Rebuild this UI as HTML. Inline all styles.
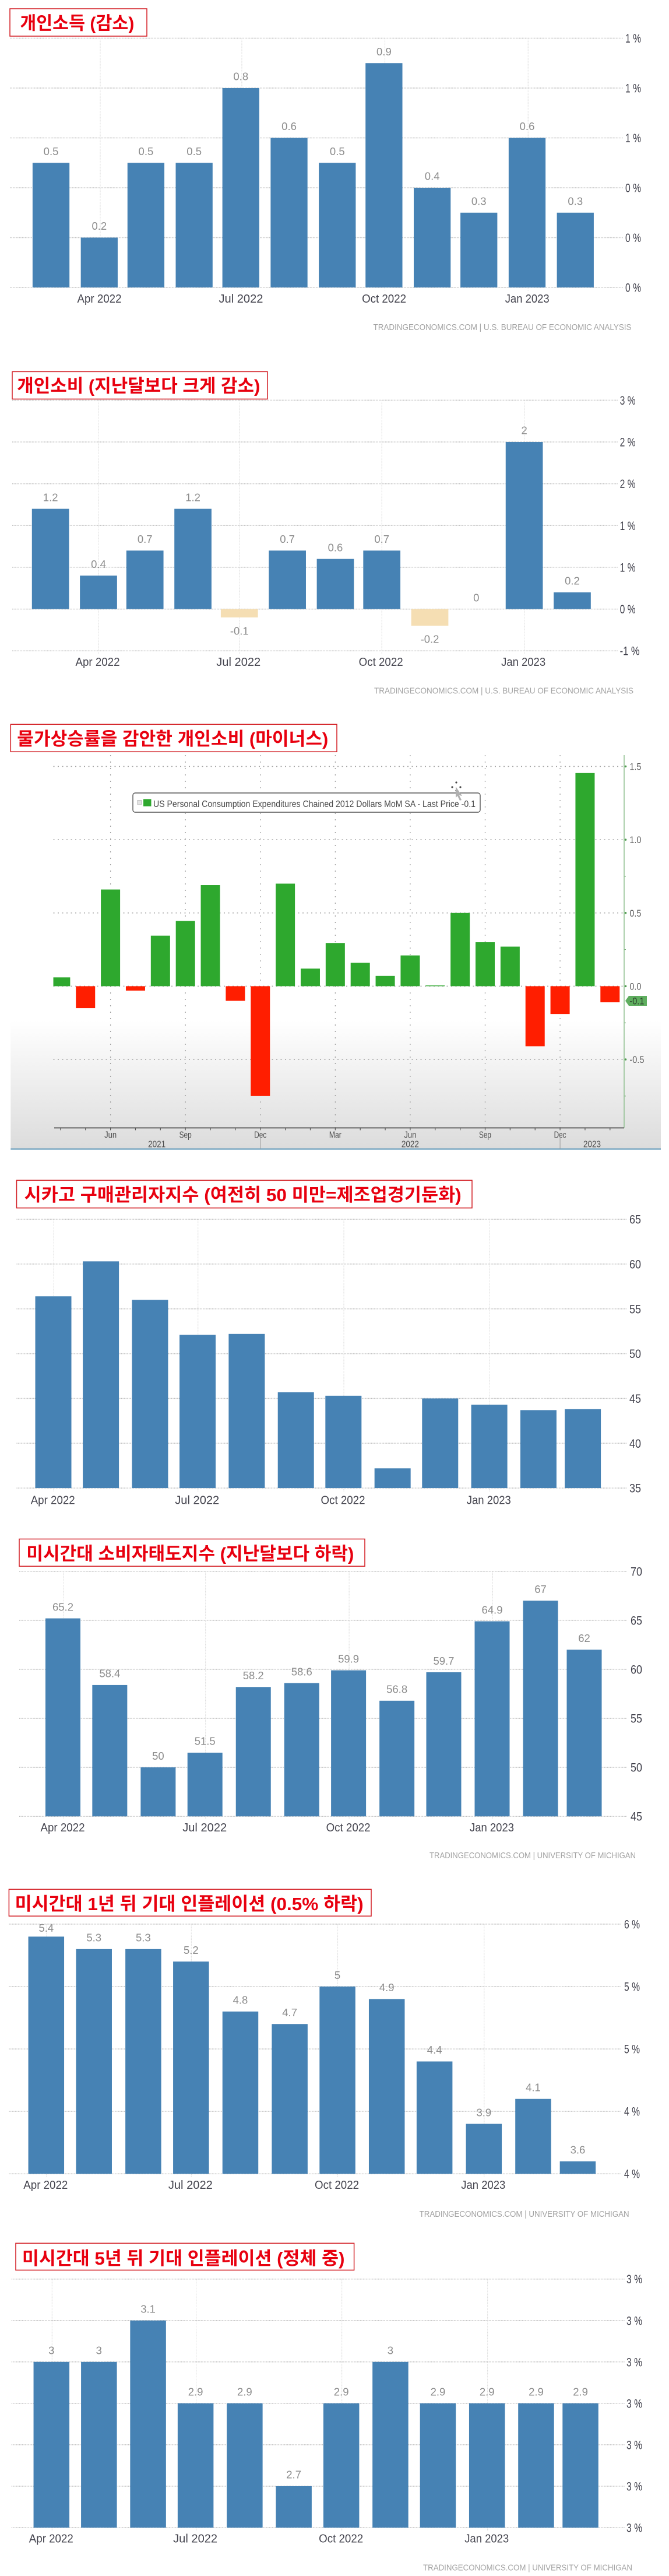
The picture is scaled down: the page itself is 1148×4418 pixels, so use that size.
<!DOCTYPE html>
<html lang="ko">
<head>
<meta charset="utf-8">
<title>US economic indicator charts</title>
<style>
html,body{margin:0;padding:0;background:#fff;}
svg{display:block;}
text{font-family:"Liberation Sans","Noto Sans CJK KR",sans-serif;}
.title-text{font-family:"Liberation Sans","Noto Sans CJK KR",sans-serif;font-weight:700;font-size:31px;fill:#e8000f;}
.title-box{fill:#fff;stroke:#d21c22;stroke-width:1.5;}
</style>
</head>
<body>
<svg id="page" xmlns="http://www.w3.org/2000/svg" width="1148" height="4418" viewBox="0 0 1148 4418">
  <defs>
    <linearGradient id="bbg-fade" x1="0" y1="0" x2="0" y2="1">
      <stop offset="0" stop-color="#ffffff"/>
      <stop offset="1" stop-color="#dcdcdc"/>
    </linearGradient>
  </defs>
  <rect x="0" y="0" width="1148" height="4418" fill="#ffffff"/>

  <g id="chart-income"></g>
  <g id="chart-spending"></g>
  <rect x="18.3" y="1750" width="1115.7" height="220" fill="url(#bbg-fade)"/>
  <rect x="18.3" y="1969.5" width="1115.7" height="2.2" fill="#6d9fbd"/>
  <g id="chart-real"></g>
  <g id="chart-pmi"></g>
  <g id="chart-sentiment"></g>
  <g id="chart-infl1"></g>
  <g id="chart-infl5"></g>

  <g>
    <rect x="228" y="1360" width="596" height="33" rx="4" fill="#ffffff" stroke="#555555" stroke-width="1.4"/>
    <rect x="236" y="1372.5" width="6.5" height="7.5" fill="#e4e4e4" stroke="#aaaaaa" stroke-width="0.8"/>
    <rect x="246" y="1370.5" width="13.5" height="12.5" fill="#2ea82e"/>
    <text x="263" y="1384" font-size="15.5" fill="#4a4a4a" textLength="553" lengthAdjust="spacingAndGlyphs">US Personal Consumption Expenditures Chained 2012 Dollars MoM SA - Last Price -0.1</text>
  </g>
  <g fill="#444444">
    <circle cx="783" cy="1342" r="1.6"/><circle cx="783" cy="1356" r="1.6"/><circle cx="776" cy="1350" r="1.6"/><circle cx="790" cy="1350" r="1.6"/>
    <polygon points="782,1349 793,1365 788,1364 792,1372 789,1373 785,1365 782,1368" fill="#b0b0b0"/>
  </g>

  <g>
    <rect class="title-box" x="17" y="15" width="235" height="47"/>
    <text class="title-text" x="34.4" y="50.5" textLength="196" lengthAdjust="spacingAndGlyphs">개인소득 (감소)</text>
  </g>
  <g>
    <rect class="title-box" x="21" y="637.4" width="438" height="47"/>
    <text class="title-text" x="29.3" y="672.5" textLength="417" lengthAdjust="spacingAndGlyphs">개인소비 (지난달보다 크게 감소)</text>
  </g>
  <g>
    <rect class="title-box" x="18.3" y="1242.3" width="559.7" height="47"/>
    <text class="title-text" x="29.3" y="1278" textLength="534" lengthAdjust="spacingAndGlyphs">물가상승률을 감안한 개인소비 (마이너스)</text>
  </g>
  <g>
    <rect class="title-box" x="28.5" y="2024.3" width="781.5" height="47.4"/>
    <text class="title-text" x="41.7" y="2060" textLength="750" lengthAdjust="spacingAndGlyphs">시카고 구매관리자지수 (여전히 50 미만=제조업경기둔화)</text>
  </g>
  <g>
    <rect class="title-box" x="33" y="2639.5" width="593" height="46.7"/>
    <text class="title-text" x="45.4" y="2675.5" textLength="562" lengthAdjust="spacingAndGlyphs">미시간대 소비자태도지수 (지난달보다 하락)</text>
  </g>
  <g>
    <rect class="title-box" x="15.4" y="3240.3" width="621.6" height="45.9"/>
    <text class="title-text" x="25.6" y="3276.2" textLength="598" lengthAdjust="spacingAndGlyphs">미시간대 1년 뒤 기대 인플레이션 (0.5% 하락)</text>
  </g>
  <g>
    <rect class="title-box" x="27" y="3847.3" width="580.6" height="46.1"/>
    <text class="title-text" x="38" y="3883.9" textLength="553.5" lengthAdjust="spacingAndGlyphs">미시간대 5년 뒤 기대 인플레이션 (정체 중)</text>
  </g>
</svg>

<script>
// ---------- shared categories ----------
const marchToFebDates = ['2022-03-01','2022-04-01','2022-05-01','2022-06-01','2022-07-01','2022-08-01','2022-09-01','2022-10-01','2022-11-01','2022-12-01','2023-01-01','2023-02-01'];
const aprilToMarchDates = ['2022-04-01','2022-05-01','2022-06-01','2022-07-01','2022-08-01','2022-09-01','2022-10-01','2022-11-01','2022-12-01','2023-01-01','2023-02-01','2023-03-01'];
const xTickDates = ['2022-04-01','2022-07-01','2022-10-01','2023-01-01'];
const xTickLabels = ['Apr 2022','Jul 2022','Oct 2022','Jan 2023'];

// ---------- personal income ----------
const incomeValues = [0.5,0.2,0.5,0.5,0.8,0.6,0.5,0.9,0.4,0.3,0.6,0.3];
const incomeTicks = [0,0.2,0.4,0.6,0.8,1];
const incomeTickLabels = ['0 %','0 %','0 %','1 %','1 %','1 %'];
const incomeSource = 'TRADINGECONOMICS.COM | U.S. BUREAU OF ECONOMIC ANALYSIS';

// ---------- personal spending ----------
const spendingValues = [1.2,0.4,0.7,1.2,-0.1,0.7,0.6,0.7,-0.2,0,2,0.2];
const spendingTicks = [-0.5,0,0.5,1,1.5,2,2.5];
const spendingTickLabels = ['-1 %','0 %','1 %','1 %','2 %','2 %','3 %'];
const spendingSource = 'TRADINGECONOMICS.COM | U.S. BUREAU OF ECONOMIC ANALYSIS';

// ---------- real spending (Bloomberg style) ----------
const realMonths = ['Apr 21','May 21','Jun 21','Jul 21','Aug 21','Sep 21','Oct 21','Nov 21','Dec 21','Jan 22','Feb 22','Mar 22','Apr 22','May 22','Jun 22','Jul 22','Aug 22','Sep 22','Oct 22','Nov 22','Dec 22','Jan 23','Feb 23'];
const realValues = [0.06,-0.15,0.66,-0.03,0.345,0.445,0.69,-0.10,-0.75,0.70,0.12,0.295,0.16,0.07,0.21,0.005,0.50,0.30,0.27,-0.41,-0.19,1.455,-0.11];
const realTicks = [-0.5,0,0.5,1,1.5];
const realTickLabels = ['-0.5','0.0','0.5','1.0','1.5'];
const realMinorTicks = [-0.75,-0.25,0.25,0.75];
const realAxisMonths = ['Jun 21','Sep 21','Dec 21','Mar 22','Jun 22','Sep 22','Dec 22'];
const realAxisMonthLabels = ['Jun','Sep','Dec','Mar','Jun','Sep','Dec'];
const realYearBreaks = ['Dec 21','Dec 22'];
const realYearLabels = ['2021','2022','2023'];
const realLastValue = -0.1;

// ---------- Chicago PMI ----------
const pmiValues = [56.4,60.3,56,52.1,52.2,45.7,45.3,37.2,45,44.3,43.7,43.8];
const pmiTicks = [35,40,45,50,55,60,65];
const pmiTickLabels = ['35','40','45','50','55','60','65'];

// ---------- Michigan sentiment ----------
const sentimentValues = [65.2,58.4,50,51.5,58.2,58.6,59.9,56.8,59.7,64.9,67,62];
const sentimentTicks = [45,50,55,60,65,70];
const sentimentTickLabels = ['45','50','55','60','65','70'];
const sentimentSource = 'TRADINGECONOMICS.COM | UNIVERSITY OF MICHIGAN';

// ---------- 1y inflation expectations ----------
const oneYearValues = [5.4,5.3,5.3,5.2,4.8,4.7,5,4.9,4.4,3.9,4.1,3.6];
const oneYearTicks = [3.5,4,4.5,5,5.5];
const oneYearTickLabels = ['4 %','4 %','5 %','5 %','6 %'];
const oneYearSource = 'TRADINGECONOMICS.COM | UNIVERSITY OF MICHIGAN';

// ---------- 5y inflation expectations ----------
const fiveYearValues = [3,3,3.1,2.9,2.9,2.7,2.9,3,2.9,2.9,2.9,2.9];
const fiveYearTicks = [2.6,2.7,2.8,2.9,3,3.1,3.2];
const fiveYearTickLabels = ['3 %','3 %','3 %','3 %','3 %','3 %','3 %'];
const fiveYearSource = 'TRADINGECONOMICS.COM | UNIVERSITY OF MICHIGAN';

// ---------- layouts (pixels, kept apart from data) ----------
const incomeLayout = {left:17,right:1070,top:65.5,bottom:493,xStart:172,xEnd:906.2,barW:63.3,shift:-1.7,xLabelY:512,yLabelX:1073,srcX:640.5,srcW:443,srcY:560.7};
const spendingLayout = {left:21,right:1061,top:686.4,bottom:1116.2,xStart:169,xEnd:899.6,barW:63.7,shift:0,xLabelY:1134.8,yLabelX:1063.6,srcX:642,srcW:445,srcY:1184.2};
const pmiLayout = {left:28.5,right:1076,top:2091.1,bottom:2552.1,xStart:92.2,xEnd:840.3,barW:62,shift:-0.7,xLabelY:2572.3,yLabelX:1080};
const sentimentLayout = {left:33,right:1076,top:2694.9,bottom:3115.2,xStart:109,xEnd:845.5,barW:60,shift:-1,xLabelY:3133.8,yLabelX:1082,srcX:737,srcW:354,srcY:3181.6};
const oneYearLayout = {left:15.4,right:1065,top:3300,bottom:3728.2,xStart:79.8,xEnd:830.8,barW:61.5,shift:-0.5,xLabelY:3747.2,yLabelX:1071,srcX:719.6,srcW:360,srcY:3796.3};
const fiveYearLayout = {left:19.8,right:1072,top:3908.7,bottom:4335,xStart:89.3,xEnd:836.7,barW:61.5,shift:-1,xLabelY:4353.6,yLabelX:1075,srcX:726,srcW:359,srcY:4402.8};
const realLayout = {left:91.5,right:1071,top:1295,yHigh:1314.5,yLow:1817,axisY:1934.4,xRef:189.6,xStep:42.86,barW:33,monthY:1945.6,yearY:1961.6};

const SVG_NS = 'http://www.w3.org/2000/svg';
function make(tag, parent) {
  const el = document.createElementNS(SVG_NS, tag);
  parent.appendChild(el);
  return el;
}
function setAll(el, props) {
  Object.keys(props).forEach(function (k) { el.setAttribute(k, props[k]); });
}
function dayNumber(iso) {
  return Date.parse(iso + 'T00:00:00Z') / 86400000;
}

function drawTradingChart(rootId, layout, dates, values, ticks, tickLabels, sourceText, showValues) {
  const root = document.getElementById(rootId);
  const domainMin = ticks[0];
  const domainMax = ticks[ticks.length - 1];
  const yScale = function (v) {
    return layout.bottom - (v - domainMin) * (layout.bottom - layout.top) / (domainMax - domainMin);
  };
  const d0 = dayNumber(xTickDates[0]);
  const d1 = dayNumber(xTickDates[xTickDates.length - 1]);
  const xScale = function (iso) {
    return layout.xStart + (dayNumber(iso) - d0) * (layout.xEnd - layout.xStart) / (d1 - d0);
  };

  ticks.forEach(function (t, i) {
    const line = make('line', root);
    
    
    setAll(line, {x1: layout.left, x2: layout.right, y1: yScale(t), y2: yScale(t), stroke: '#bdbdbd', 'stroke-width': 1.5, 'stroke-dasharray': '1.3 1.3'});
    const label = make('text', root);
    
    
    setAll(label, {x: layout.yLabelX, y: yScale(t) + 7.5, 'font-size': 21, fill: '#3f3f4a', textLength: 7 * tickLabels[i].length + 6, lengthAdjust: 'spacingAndGlyphs'});
    label.textContent = tickLabels[i];
  });

  xTickDates.forEach(function (d, i) {
    const x = xScale(d);
    const line = make('line', root);
    
    
    setAll(line, {x1: x, x2: x, y1: layout.top, y2: layout.bottom + 6, stroke: '#d4d4d4', 'stroke-width': 1, 'stroke-dasharray': '1.3 1.3'});
    const label = make('text', root);
    
    
    setAll(label, {x: x - 1.5, y: layout.xLabelY + 7, 'font-size': 20, fill: '#45454f', 'text-anchor': 'middle', textLength: 6 * xTickLabels[i].length + 28, lengthAdjust: 'spacingAndGlyphs'});
    label.textContent = xTickLabels[i];
  });

  const zeroY = yScale(Math.max(domainMin, 0));
  values.forEach(function (v, i) {
    const cx = xScale(dates[i]) + layout.shift;
    const y = yScale(v);
    const bar = make('rect', root);
    
    
    setAll(bar, {x: cx - layout.barW / 2, y: Math.min(y, zeroY), width: layout.barW, height: Math.abs(zeroY - y), fill: v < 0 ? '#f5deb3' : '#4682b4'});
    if (showValues) {
      const labelCenter = v < 0 ? y + 23 : Math.max(y - 19.8, layout.top + 6.7);
      const label = make('text', root);
      
      
      setAll(label, {x: cx, y: labelCenter + 6.5, 'font-size': 18.5, fill: '#8c8c8c', 'text-anchor': 'middle'});
      label.textContent = String(v);
    }
  });

  if (sourceText) {
    const src = make('text', root);
    
    
    setAll(src, {x: layout.srcX, y: layout.srcY + 5.5, 'font-size': 15, fill: '#a2a2a2', textLength: layout.srcW, lengthAdjust: 'spacingAndGlyphs'});
    src.textContent = sourceText;
  }
}

function drawRealChart() {
  const root = document.getElementById('chart-real');
  const L = realLayout;
  const yScale = function (v) {
    return L.yLow + (v - realTicks[0]) * (L.yHigh - L.yLow) / (realTicks[realTicks.length - 1] - realTicks[0]);
  };
  const xScale = function (month) {
    return L.xRef + (realMonths.indexOf(month) - realMonths.indexOf(realAxisMonths[0])) * L.xStep;
  };

  realAxisMonths.forEach(function (m, i) {
    const x = xScale(m);
    const line = make('line', root);
    
    
    setAll(line, {x1: x, x2: x, y1: L.top, y2: L.axisY, stroke: '#a0a0a0', 'stroke-width': 1.3, 'stroke-dasharray': '2 9'});
    const label = make('text', root);
    
    
    setAll(label, {x: x, y: L.monthY + 6, 'font-size': 16, fill: '#4d4d4d', 'text-anchor': 'middle', textLength: 21, lengthAdjust: 'spacingAndGlyphs'});
    label.textContent = realAxisMonthLabels[i];
  });

  realTicks.forEach(function (t, i) {
    const y = yScale(t);
    const line = make('line', root);
    
    
    setAll(line, {x1: L.left, x2: L.right, y1: y, y2: y, stroke: '#a0a0a0', 'stroke-width': 1.5, 'stroke-dasharray': '2 5.5'});
    const tick = make('circle', root);
    
    
    setAll(tick, {cx: L.right + 2.5, cy: y, r: 1.8, fill: '#4f9a4f'});
    const label = make('text', root);
    
    
    setAll(label, {x: 1080.4, y: y + 6, 'font-size': 16.5, fill: '#5a5a5a', textLength: 5 * realTickLabels[i].length + 5, lengthAdjust: 'spacingAndGlyphs'});
    label.textContent = realTickLabels[i];
  });

  realMinorTicks.forEach(function (t) {
    const tick = make('line', root);
    
    
    setAll(tick, {x1: L.right, x2: L.right + 3, y1: yScale(t), y2: yScale(t), stroke: '#6aa56a', 'stroke-width': 1});
  });

  const zeroY = yScale(0);
  realValues.forEach(function (v, i) {
    const cx = xScale(realMonths[i]);
    const y = yScale(v);
    const x0 = Math.max(L.left, cx - L.barW / 2);
    const x1 = cx + L.barW / 2;
    const bar = make('rect', root);
    
    
    setAll(bar, {x: x0, y: Math.min(y, zeroY), width: x1 - x0, height: Math.max(Math.abs(zeroY - y), 0.8), fill: v < 0 ? '#ff1e00' : '#2ea82e'});
  });

  const rightAxis = make('line', root);
  
  
  setAll(rightAxis, {x1: L.right, x2: L.right, y1: L.top, y2: L.axisY, stroke: '#8fbf8f', 'stroke-width': 1.5});

  const bottomAxis = make('line', root);
  
  
  setAll(bottomAxis, {x1: 93, x2: L.right, y1: L.axisY, y2: L.axisY, stroke: '#666666', 'stroke-width': 2});

  realMonths.forEach(function (m) {
    const x = xScale(m);
    const tick = make('line', root);
    
    
    setAll(tick, {x1: x, x2: x, y1: L.axisY, y2: L.axisY + 4, stroke: '#555555', 'stroke-width': 1.2});
  });

  const spans = [L.left].concat(realYearBreaks.map(xScale), [L.right]);
  realYearBreaks.forEach(function (m) {
    const x = xScale(m);
    const sep = make('line', root);
    
    
    setAll(sep, {x1: x, x2: x, y1: 1946, y2: 1970, stroke: '#9a9a9a', 'stroke-width': 1});
  });
  realYearLabels.forEach(function (year, i) {
    const label = make('text', root);
    
    
    setAll(label, {x: (spans[i] + spans[i + 1]) / 2, y: L.yearY + 6, 'font-size': 16, fill: '#4d4d4d', 'text-anchor': 'middle', textLength: 30, lengthAdjust: 'spacingAndGlyphs'});
    label.textContent = year;
  });

  const badgeY = yScale(realLastValue);
  const badge = make('path', root);
  
  
  setAll(badge, {d: 'M1073 ' + badgeY + ' l6 -8.5 h31 v17 h-31 z', fill: '#5fae5f'});
  const badgeText = make('text', root);
  
  
  setAll(badgeText, {x: 1080.4, y: badgeY + 6, 'font-size': 16.5, fill: '#2b3d2b', textLength: 25, lengthAdjust: 'spacingAndGlyphs'});
  badgeText.textContent = realLastValue.toFixed(1);
}

drawTradingChart('chart-income', incomeLayout, marchToFebDates, incomeValues, incomeTicks, incomeTickLabels, incomeSource, true);
drawTradingChart('chart-spending', spendingLayout, marchToFebDates, spendingValues, spendingTicks, spendingTickLabels, spendingSource, true);
drawRealChart();
drawTradingChart('chart-pmi', pmiLayout, aprilToMarchDates, pmiValues, pmiTicks, pmiTickLabels, '', false);
drawTradingChart('chart-sentiment', sentimentLayout, aprilToMarchDates, sentimentValues, sentimentTicks, sentimentTickLabels, sentimentSource, true);
drawTradingChart('chart-infl1', oneYearLayout, aprilToMarchDates, oneYearValues, oneYearTicks, oneYearTickLabels, oneYearSource, true);
drawTradingChart('chart-infl5', fiveYearLayout, aprilToMarchDates, fiveYearValues, fiveYearTicks, fiveYearTickLabels, fiveYearSource, true);
</script>
</body>
</html>
